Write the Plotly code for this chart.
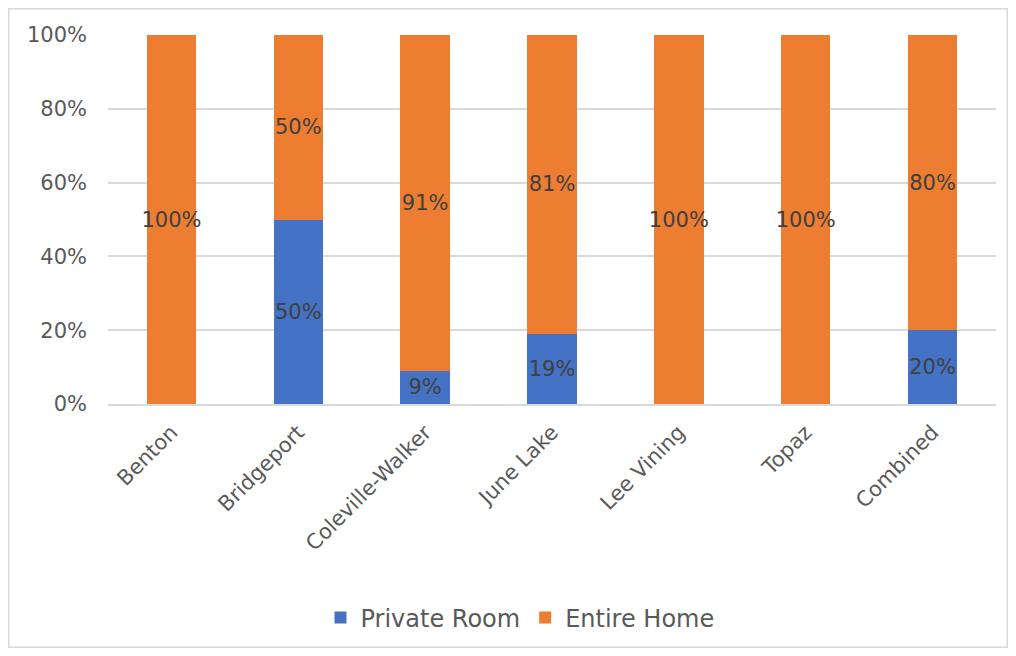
import plotly.graph_objects as go

categories = ["Benton", "Bridgeport", "Coleville-Walker", "June Lake", "Lee Vining", "Topaz", "Combined"]
private_room = [0, 50, 9, 19, 0, 0, 20]
entire_home = [100, 50, 91, 81, 100, 100, 80]

# page body has an 8px margin; figure origin sits at screen (8, 8)
OX, OY = 8, 8
W, H = 1000, 640
# screen-space targets
PL, PR, PT, PB = 108, 996, 35, 404
L, T = PL - OX, PT - OY
R = W - (PR - OX)
B = H - (PB - OY)
FONT = "DejaVu Sans"

def labels(vals):
    return [f"{v}%" if v > 0 else "" for v in vals]

common = dict(textposition="inside", insidetextanchor="middle", textangle=0,
              constraintext="none", cliponaxis=False,
              textfont=dict(family=FONT, size=21, color="#404040"), width=0.39)

fig = go.Figure()
fig.add_trace(go.Bar(
    name="Private Room", x=categories, y=[v / 100 for v in private_room],
    marker=dict(color="#4472C4", line=dict(width=0)),
    text=labels(private_room), **common,
))
fig.add_trace(go.Bar(
    name="Entire Home", x=categories, y=[v / 100 for v in entire_home],
    marker=dict(color="#ED7D31", line=dict(width=0)),
    text=labels(entire_home), **common,
))

pw = W - L - R
ph = H - T - B
def px(x): return (x - OX - L) / pw
def py(y): return (H - B - (y - OY)) / ph

fig.update_layout(
    barmode="stack",
    width=W, height=H,
    margin=dict(l=L, r=R, t=T, b=B, autoexpand=False),
    paper_bgcolor="white", plot_bgcolor="white",
    font=dict(family=FONT, size=21, color="#595959"),
    uniformtext=dict(mode=False),
    showlegend=True,
    legend=dict(orientation="h", x=px(520), xanchor="center", y=py(618), yanchor="middle",
                font=dict(family=FONT, size=24, color="#595959"), itemwidth=30,
                traceorder="normal"),
    xaxis=dict(tickangle=-45, showline=True, linecolor="#d9d9d9", linewidth=1.5,
               tickfont=dict(family=FONT, size=21, color="#595959"), ticks="",
               ticklabelstandoff=6, automargin=False),
    yaxis=dict(range=[0, 1], dtick=0.2, tickformat=".0%", showgrid=True,
               gridcolor="#d9d9d9", gridwidth=1.5, zeroline=False, ticks="",
               ticklabelstandoff=20, automargin=False,
               tickfont=dict(family=FONT, size=21, color="#595959")),
    shapes=[dict(type="rect", xref="paper", yref="paper",
                 x0=px(8.75), x1=px(1007.25), y0=py(647.25), y1=py(8.75),
                 line=dict(color="#d9d9d9", width=1.5), fillcolor="rgba(0,0,0,0)", layer="below")],
)

fig.write_html("out.html")
